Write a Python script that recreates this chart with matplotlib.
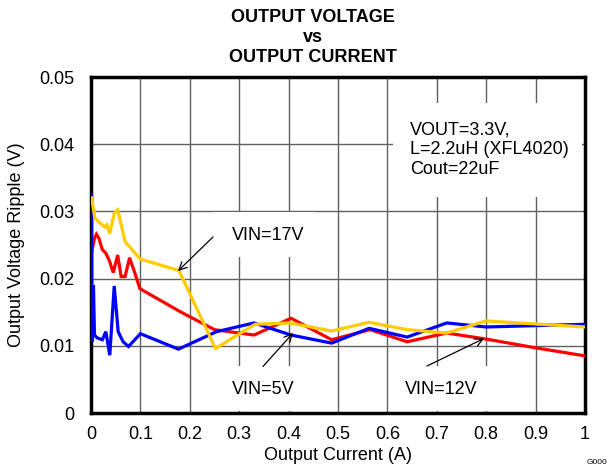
import matplotlib
matplotlib.use("Agg")
import matplotlib.pyplot as plt
from matplotlib.patches import Rectangle

plt.rcParams['font.family'] = ['Liberation Sans', 'DejaVu Sans']

# ---- data ----
x_5v = [0.001, 0.002, 0.005, 0.007, 0.012, 0.023, 0.030, 0.038, 0.047, 0.055,
        0.065, 0.076, 0.100, 0.177, 0.254, 0.330, 0.405, 0.487, 0.563, 0.640,
        0.720, 0.800, 1.000]
y_5v = [0.0325, 0.0106, 0.0190, 0.0116, 0.0112, 0.0109, 0.0121, 0.0086, 0.0189, 0.0121,
        0.0106, 0.0099, 0.0118, 0.0095, 0.0121, 0.0134, 0.0116, 0.0104, 0.0126, 0.0113,
        0.0134, 0.0128, 0.0132]

x_12v = [0.001, 0.007, 0.011, 0.016, 0.023, 0.030, 0.038, 0.045, 0.054, 0.061,
         0.069, 0.078, 0.088, 0.099, 0.180, 0.250, 0.330, 0.405, 0.487, 0.565,
         0.640, 0.720, 0.800, 0.900, 1.000]
y_12v = [0.0238, 0.0260, 0.0266, 0.0260, 0.0243, 0.0238, 0.0225, 0.0209, 0.0235, 0.0203,
         0.0203, 0.0231, 0.0210, 0.0185, 0.0151, 0.0124, 0.0116, 0.0141, 0.0109, 0.0124,
         0.0106, 0.0119, 0.0110, 0.0097, 0.0085]

x_17v = [0.001, 0.003, 0.008, 0.018, 0.028, 0.032, 0.038, 0.047, 0.054, 0.058,
         0.069, 0.100, 0.178, 0.252, 0.332, 0.403, 0.487, 0.563, 0.640, 0.720,
         0.800, 1.000]
y_17v = [0.0320, 0.0312, 0.0290, 0.0283, 0.0277, 0.0280, 0.0267, 0.0297, 0.0302, 0.0290,
         0.0255, 0.0229, 0.0212, 0.0096, 0.0132, 0.0134, 0.0122, 0.0135, 0.0124, 0.0119,
         0.0137, 0.0128]

x_ticks = [0, 0.1, 0.2, 0.3, 0.4, 0.5, 0.6, 0.7, 0.8, 0.9, 1]
x_tick_labels = ["0", "0.1", "0.2", "0.3", "0.4", "0.5", "0.6", "0.7", "0.8", "0.9", "1"]
y_ticks = [0, 0.01, 0.02, 0.03, 0.04, 0.05]
y_tick_labels = ["0", "0.01", "0.02", "0.03", "0.04", "0.05"]

W, H = 609, 469
fig = plt.figure(figsize=(W / 100, H / 100), dpi=100)
L, R, T, B = 91, 585, 77, 413
ax = fig.add_axes([L / W, 1 - B / H, (R - L) / W, (B - T) / H])

def axf(px, py):
    return ((px - L) / (R - L), (B - py) / (B - T))

ax.set_xlim(0, 1)
ax.set_ylim(0, 0.05)
ax.set_xticks(x_ticks)
ax.set_xticklabels(x_tick_labels)
ax.set_yticks(y_ticks)
ax.set_yticklabels(y_tick_labels)
ax.tick_params(length=0, labelsize=13, pad=12)
ax.tick_params(axis='x', pad=9)
ax.grid(True, color='#606060', linewidth=1.0)
ax.set_axisbelow(True)
for s in ax.spines.values():
    s.set_linewidth(2.5)
    s.set_color('black')

lw = 2.3
ax.plot(x_12v, y_12v, color='#FF0000', lw=lw, zorder=4, solid_joinstyle='miter')
ax.plot(x_5v, y_5v, color='#0000FF', lw=lw, zorder=5, solid_joinstyle='miter')
ax.plot(x_17v, y_17v, color='#FFCC00', lw=lw, zorder=6, solid_joinstyle='miter')

# white label backgrounds (hide grid)
def wbox(px0, py0, px1, py1):
    x0, y1 = axf(px0, py0)
    x1, y0 = axf(px1, py1)
    ax.add_patch(Rectangle((x0, y0), x1 - x0, y1 - y0, transform=ax.transAxes,
                           facecolor='white', edgecolor='none', zorder=2))

wbox(213, 212, 315, 257)
wbox(213, 366, 315, 411)
wbox(395, 366, 500, 411)
wbox(393, 103, 582, 197)

def label(txt, px, py):
    x, y = axf(px, py)
    ax.text(x, y, txt, transform=ax.transAxes, fontsize=13, ha='center', va='center', zorder=7)

label("VIN=17V", 268.5, 236)
label("VIN=5V", 263.5, 389)
label("VIN=12V", 441.5, 389)

tx, ty = axf(410, 150)
ax.text(tx, ty, "VOUT=3.3V,\nL=2.2uH (XFL4020)\nCout=22uF", transform=ax.transAxes,
        fontsize=13, ha='left', va='center', linespacing=1.2, zorder=7)

def arrow(tail, tip):
    ax.annotate("", xy=axf(*tip), xytext=axf(*tail), xycoords='axes fraction',
                textcoords='axes fraction',
                arrowprops=dict(arrowstyle='->', color='black', lw=0.9,
                                shrinkA=0, shrinkB=0, mutation_scale=14), zorder=8)

arrow((213, 237), (178, 271))
arrow((263, 366.5), (293, 333))
arrow((427, 366), (484, 338.5))

ax.set_xlabel("Output Current (A)", fontsize=13, labelpad=3)
ax.set_ylabel("Output Voltage Ripple (V)", fontsize=13, labelpad=10)

fig.text(312.5 / W, 1 - 17 / H, "OUTPUT VOLTAGE", ha='center', va='center',
         fontsize=13, fontweight='bold')
fig.text(312.5 / W, 1 - 37 / H, "vs", ha='center', va='center',
         fontsize=13, fontweight='bold')
fig.text(312.5 / W, 1 - 57 / H, "OUTPUT CURRENT", ha='center', va='center',
         fontsize=13, fontweight='bold')
fig.text(587 / W, 1 - 462 / H, "G000", ha='left', va='center', fontsize=6)

fig.savefig("out.png", dpi=100)
